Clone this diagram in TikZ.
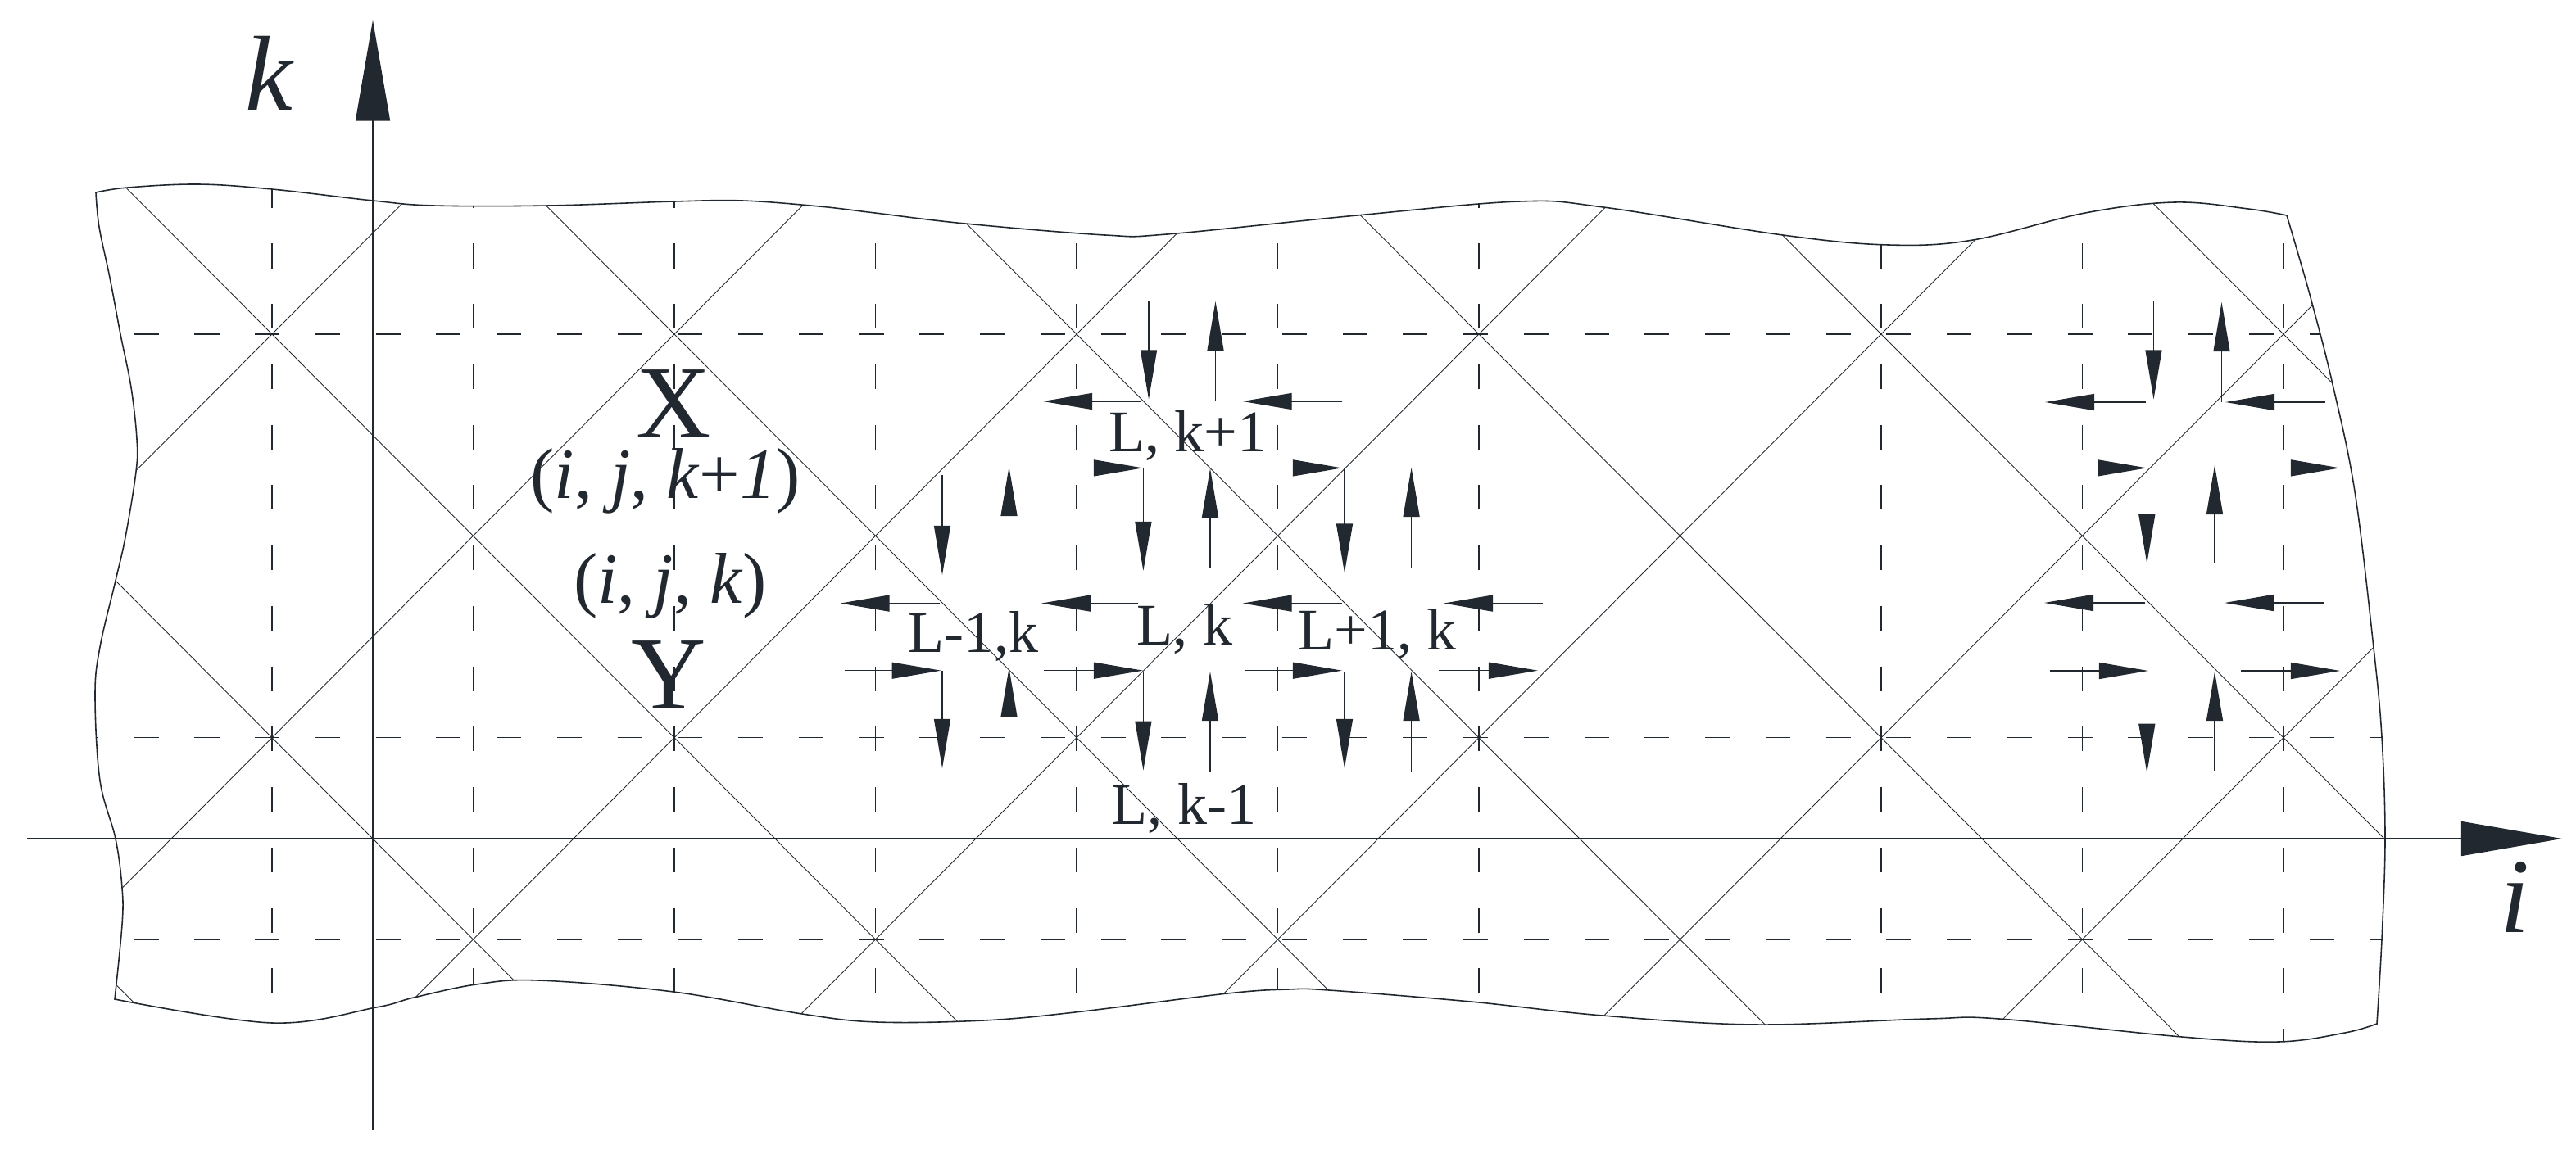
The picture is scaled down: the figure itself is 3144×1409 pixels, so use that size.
\documentclass[tikz,border=0pt]{standalone}
\usepackage{fontspec}
\setmainfont{Liberation Serif}
\usetikzlibrary{arrows.meta}
\definecolor{ink}{HTML}{22282F}
\newcommand{\bndpath}{plot[smooth,tension=0.6] coordinates {(117,235) (156,229) (242,225) (332,231) (455,245) (529,251) (670,251) (823,246) (906,245) (1000,252) (1068,260) (1178,273) (1349,287) (1424,286) (1656,263) (1854,246) (1957,253) (2176,287) (2305,299) (2408,293) (2545,260) (2654,247) (2744,255) (2791,263)}
 -- plot[smooth,tension=0.6] coordinates {(2791,263) (2804,307) (2821,367) (2846,465) (2874,600) (2897,791) (2907,900) (2911,1023) (2907,1147) (2901,1250)}
 -- plot[smooth,tension=0.6] coordinates {(2901,1250) (2862,1261) (2781,1272) (2663,1266) (2440,1244) (2353,1244) (2142,1251) (1956,1240) (1795,1223) (1622,1209) (1572,1208) (1498,1213) (1312,1236) (1200,1246) (1071,1248) (979,1238) (822,1211) (658,1197) (581,1202) (505,1218) (459,1230) (332,1249) (140,1220)}
 -- plot[smooth,tension=0.6] coordinates {(140,1220) (149,1129) (149,1084) (141,1024) (122,953) (116,849) (122,790) (141,709) (153,656) (166,576) (167,536) (160,473) (147,408) (134,339) (121,277) (117,235)} -- cycle}
\begin{document}
\begin{tikzpicture}[x=0.01cm,y=-0.01cm,
  diag/.style={draw=ink, line width=0.25pt},
  gridln/.style={draw=ink, line width=0.3pt, dash pattern=on 0.3cm off 0.437cm},
  bnd/.style={draw=ink, line width=0.45pt},
  axisarrow/.style={draw=ink, line width=0.45pt, -{Triangle[length=1.23cm,width=0.42cm]}},
  flux/.style={draw=ink, line width=0.35pt, -{Triangle[length=0.6cm,width=0.2cm]}},
  lbl/.style={text=ink, inner sep=0pt, anchor=base},
  axlbl/.style={lbl, font=\fontsize{37}{40}\selectfont\itshape},
  bigl/.style={lbl, font=\fontsize{36}{40}\selectfont},
  crd/.style={lbl, font=\fontsize{25}{28}\selectfont},
  cell/.style={lbl, font=\fontsize{20.5}{23}\selectfont}]
\fill[white] (0,0) rectangle (3144,1409);
\useasboundingbox (0,0) rectangle (3144,1409);
% grid inside the wavy boundary
\begin{scope}
  \clip \bndpath;
  \foreach \n in {0,...,10}
    \draw[gridln] ({332+245.5*\n},150) -- ({332+245.5*\n},1320);
  \foreach \m in {0,...,3}
    \draw[gridln] (90,{408+246.33*\m}) -- (2960,{408+246.33*\m});
  \foreach \c in {-6,-4,...,12}
    \draw[diag] ({332+245.5*(\c-2)},-84.7) -- ({332+245.5*(\c+5)},1639.7);
  \foreach \c in {-2,0,...,16}
    \draw[diag] ({332+245.5*(\c+2)},-84.7) -- ({332+245.5*(\c-5)},1639.7);
\end{scope}
\draw[bnd] \bndpath;
% axes
\coordinate (kbot) at (455,1380);
\coordinate (ktip) at (455,24.5);
\coordinate (ileft) at (33,1024);
\coordinate (itip) at (3127,1024);
\draw[axisarrow] (kbot) -- (ktip);
\draw[axisarrow] (ileft) -- (itip);
\node[axlbl] (klab) at (328,134) {k};
\node[axlbl] (ilab) at (3070,1138) {i};
% labels X / Y
\node[bigl] (X) at (822,534) {X};
\node[crd] (pX) at (812,608) {(\textit{i}, \textit{j}, \textit{k}+\textit{1})};
\node[crd] (pY) at (818,736) {(\textit{i}, \textit{j}, \textit{k})};
\node[bigl] (Y) at (816,865) {Y};
% cell labels
\node[cell] (Lk1) at (1450,551) {L, k+1};
\node[cell] (Lm1k) at (1188,796) {L-1,k};
\node[cell] (Lk) at (1446,787) {L, k};
\node[cell] (Lp1k) at (1681,793) {L+1, k};
\node[cell] (Lkm1) at (1445,1006) {L, k-1};
% central cluster of flux arrows
\draw[flux] (1402,367) -- (1402,487.5);
\draw[flux] (1483.5,490) -- (1483.5,368);
\draw[flux] (1392,490) -- (1273,490);
\draw[flux] (1638,490) -- (1516.6,490);
\draw[flux] (1277,571.4) -- (1395,571.4);
\draw[flux] (1518,571.4) -- (1638,571.4);
\draw[flux] (1231.5,693) -- (1231.5,570);
\draw[flux] (1150,580) -- (1150,702);
\draw[flux] (1395.4,572) -- (1395.4,697);
\draw[flux] (1477,693) -- (1477,572);
\draw[flux] (1641,572) -- (1641,699.5);
\draw[flux] (1722.6,693) -- (1722.6,571);
\draw[flux] (1147,736.6) -- (1025.5,736.6);
\draw[flux] (1389,736.6) -- (1271,736.6);
\draw[flux] (1638,736.6) -- (1516.6,736.6);
\draw[flux] (1883,736.6) -- (1762,736.6);
\draw[flux] (1030.6,818.7) -- (1148.6,818.7);
\draw[flux] (1274,818.7) -- (1395,818.7);
\draw[flux] (1518.5,818.7) -- (1638,818.7);
\draw[flux] (1756,818.7) -- (1877,818.7);
\draw[flux] (1150,818.7) -- (1150,938);
\draw[flux] (1231.5,936) -- (1231.5,815.6);
\draw[flux] (1395.4,820) -- (1395.4,940.6);
\draw[flux] (1477,943) -- (1477,820);
\draw[flux] (1641,820) -- (1641,938);
\draw[flux] (1722.6,943) -- (1722.6,820);
% right cluster of flux arrows
\draw[flux] (2628.5,368) -- (2628.5,487.5);
\draw[flux] (2711.5,491) -- (2711.5,369);
\draw[flux] (2619,491) -- (2496,491);
\draw[flux] (2838,491) -- (2716,491);
\draw[flux] (2501.5,571.4) -- (2620.3,571.4);
\draw[flux] (2735,571.4) -- (2856,571.4);
\draw[flux] (2620.3,572) -- (2620.3,688);
\draw[flux] (2703,688) -- (2703,568);
\draw[flux] (2618,736) -- (2495,736);
\draw[flux] (2837,736) -- (2715,736);
\draw[flux] (2501.5,819) -- (2622,819);
\draw[flux] (2735,819) -- (2856,819);
\draw[flux] (2620.3,824.5) -- (2620.3,943.7);
\draw[flux] (2703,940.6) -- (2703,820);
\end{tikzpicture}
\end{document}
